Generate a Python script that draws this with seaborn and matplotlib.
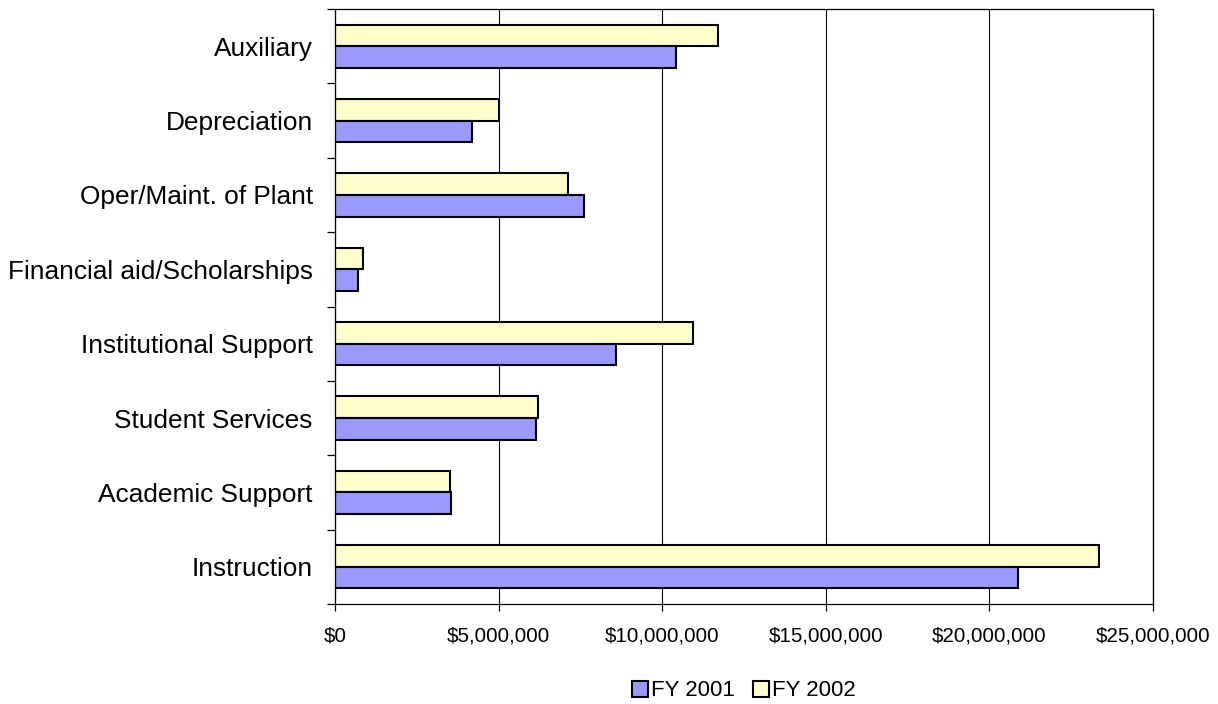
import pandas as pd
import matplotlib
matplotlib.use("Agg")
import matplotlib.pyplot as plt
import matplotlib.ticker as mticker
from matplotlib.patches import Patch
import seaborn as sns

# Expense categories (top to bottom as shown)
categories = ["Auxiliary", "Depreciation", "Oper/Maint. of Plant",
              "Financial aid/Scholarships", "Institutional Support",
              "Student Services", "Academic Support", "Instruction"]

# Values (dollars)
fy2001 = [10410000, 4200000, 7620000, 690000, 8600000, 6140000, 3550000, 20860000]
fy2002 = [11710000, 5020000, 7110000, 870000, 10930000, 6190000, 3510000, 23360000]

x_ticks = [0, 5000000, 10000000, 15000000, 20000000, 25000000]

df = pd.DataFrame({
    "category": categories * 2,
    "value": fy2002 + fy2001,
    "year": ["FY 2002"] * len(categories) + ["FY 2001"] * len(categories),
})

colors = {"FY 2001": "#9999FF", "FY 2002": "#FFFFCC"}

sns.set_style("white")
plt.rcParams['font.family'] = ['Liberation Sans', 'DejaVu Sans']
plt.rcParams['text.color'] = 'black'
plt.rcParams['xtick.color'] = 'black'
plt.rcParams['ytick.color'] = 'black'

fig = plt.figure(figsize=(12.18, 7.04), dpi=100)
ax = fig.add_axes([335 / 1218, 1 - 604 / 704, (1153 - 335) / 1218, (604 - 9) / 704])

sns.barplot(data=df, x="value", y="category", hue="year", order=categories,
            hue_order=["FY 2002", "FY 2001"], palette=colors, orient="h",
            width=0.58, edgecolor="black", linewidth=1.5, saturation=1,
            legend=False, ax=ax)

ax.set_xlim(0, 25000000)
ax.set_ylim(len(categories) - 0.5, -0.5)
ax.set_xticks(x_ticks)
ax.xaxis.set_major_formatter(mticker.StrMethodFormatter("${x:,.0f}"))
ax.set_xlabel("")
ax.set_ylabel("")

# vertical gridlines
ax.grid(axis="x", color="black", linewidth=0.8)
ax.set_axisbelow(True)

for s in ax.spines.values():
    s.set_visible(True)
    s.set_color("black")
    s.set_linewidth(0.9)

# category separators as outward ticks on the y axis
ax.set_yticks([i + 0.5 for i in range(-1, len(categories))], minor=True)
ax.tick_params(axis="y", which="major", length=0, pad=16, labelsize=18.9,
               labelcolor="black")
ax.tick_params(axis="y", which="minor", left=True, length=6, width=0.9, color="black")
ax.tick_params(axis="x", which="major", bottom=True, length=5, width=0.9,
               color="black", pad=11, labelsize=14.8, labelcolor="black")

handles = [Patch(facecolor=colors["FY 2001"], edgecolor="black", linewidth=1.5, label="FY 2001"),
           Patch(facecolor=colors["FY 2002"], edgecolor="black", linewidth=1.5, label="FY 2002")]
fig.legend(handles=handles, loc="center", bbox_to_anchor=(744 / 1218, 1 - 691 / 704),
           ncol=2, frameon=False, fontsize=16, handlelength=0.7, handleheight=0.7,
           handletextpad=0.15, columnspacing=0.8, borderaxespad=0, labelcolor="black")

fig.savefig("out.png", dpi=100)
